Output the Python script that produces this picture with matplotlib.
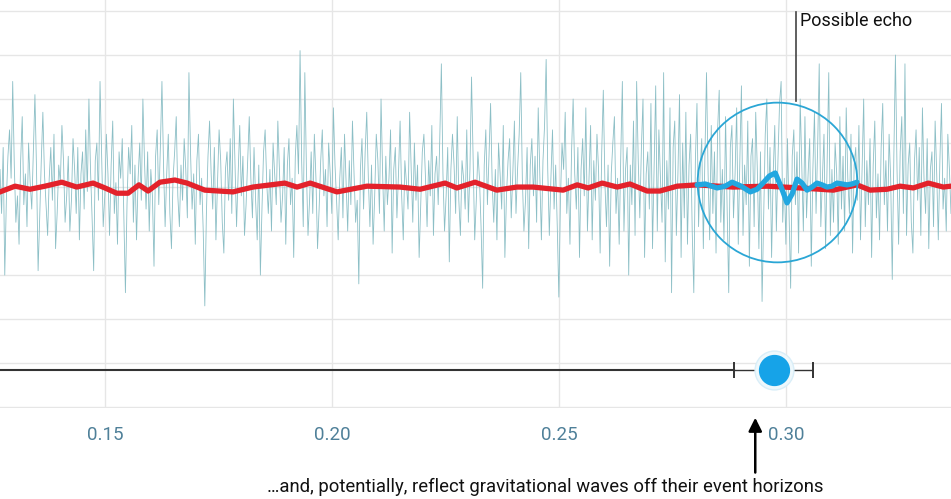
import numpy as np
import matplotlib
matplotlib.use('Agg')
import matplotlib.pyplot as plt

# time span of the strain trace (seconds) and raw noisy strain, in grid units
t_start, t_end = 0.1269, 0.3363
noise = [
    0.4, -0.6, 0.9, -2.0, -0.3, 0.7, 1.3, 0.2, 2.4, 0.5, -0.8, -0.2, -1.3, 0.6, 1.6, -0.4, 0.3, -0.9, 1.0, 0.1, -0.5, 0.8, 2.1, 0.4, -1.9,
    -0.7, 0.6, 1.7, 0.3, -0.4, -1.1, 0.2, 0.9, -0.3, 1.2, -1.4, -0.6, 0.5, 0.1, 1.4, 0.6, -0.8, -0.2, 0.7, -1.0, -0.3, 1.1, 0.4, -0.6, 0.9,
    -1.2, 0.3, 0.8, -0.5, 1.3, -0.1, 2.0, 0.4, -0.7, -1.9, 0.6, 1.0, -0.3, 2.4, 0.7, -0.9, -0.2, 1.2, 0.3, -1.1, 0.5, 1.5, -0.6, 0.1, -1.3,
    0.8, 0.2, 1.1, -0.6, -2.4, -0.4, 0.9, 0.3, 1.4, -0.8, 0.5, -1.2, 0.2, 1.0, -0.3, 2.0, 0.6, -0.5, 0.8, -1.0, 0.4, -0.2, -1.8, 0.7, 1.3,
    -0.4, 0.9, 2.4, 0.5, -0.9, 0.3, 1.2, -0.6, -1.4, 0.2, 0.8, 1.6, -0.2, -0.9, 0.5, -0.3, 1.1, 0.4, -0.7, 2.6, 0.8, -0.5, 0.3, -1.3, 0.6,
    1.2, -0.4, 0.2, -1.0, -2.7, -0.6, 0.7, 1.5, 0.3, -0.5, 0.9, -1.2, 0.1, 1.3, 0.6, -0.8, -1.5, 0.4, 0.8, -0.3, 1.1, -0.6, 2.0, 0.5, -0.9,
    0.3, 1.4, -0.2, 0.7, -1.1, -0.4, 0.6, 1.6, 0.2, -0.7, 0.9, -0.3, -1.2, 0.5, -2.0, -0.5, 0.8, 1.3, 0.1, -0.6, 0.4, -1.0, 1.0, 0.3, -0.4,
    1.5, 0.4, -0.8, -0.2, 0.9, -1.3, 0.5, 1.1, -0.4, 0.2, -1.6, 0.7, 1.4, 0.3, 3.1, 0.6, -0.9, 2.6, 0.4, -1.1, -0.3, 0.8, -0.6, 1.2, 0.2,
    -1.4, -0.5, 0.6, 1.3, -0.2, 0.4, -0.9, 1.0, 0.3, -0.6, 1.8, 0.5, -0.3, -1.2, 0.2, 0.9, -0.7, 1.2, 0.1, -1.0, 0.6, -0.4, 1.5, 0.3, -0.8,
    -0.3, -2.2, 0.4, 1.1, -0.5, 0.8, 1.7, 0.2, -0.9, 0.5, -1.3, -0.2, 1.2, 0.6, -0.6, 2.0, 0.3, -1.0, 0.7, -0.4, 0.2, 1.3, -1.5, 0.4, 0.9,
    -0.7, 0.3, 1.5, -0.2, -1.2, 0.6, 0.1, -0.5, 1.7, 0.4, -0.8, 1.0, -0.3, 0.5, -1.6, -0.4, 0.8, 1.2, 0.2, -0.9, 0.6, -0.2, 1.4, -1.1, 0.3,
    0.7, -0.4, 1.1, 2.8, 0.3, -1.0, -0.2, 0.9, -1.7, 0.4, 1.2, 0.5, -0.6, 1.6, -0.3, -1.1, 0.6, 0.2, -0.5, 1.3, -0.8, 0.4, 2.5, 0.6, -1.2,
    -0.3, 0.8, 0.2, -0.9, -2.3, 0.5, 1.3, -0.4, 0.7, 1.9, 0.1, -0.8, 0.4, -1.2, 1.0, 0.3, -0.5, 1.4, -1.6, -0.2, 0.6, 1.1, -0.7, 0.3, 1.5,
    -0.6, 0.4, 1.2, 2.6, 0.2, -1.0, -0.3, 0.9, -1.4, 0.5, 1.1, -0.2, 0.7, -0.8, 1.8, 0.3, -1.2, 0.6, 1.4, 2.9, 0.4, -1.1, 0.2, 1.3, -0.5,
    0.5, -0.9, -2.5, -0.3, 1.0, 0.4, 1.7, -0.6, 0.2, -1.3, 0.8, 2.0, 0.3, -0.5, 0.9, -1.6, 0.4, 1.1, -0.2, 1.8, -1.0, 0.2, 1.4, -1.2, 0.6,
    -0.3, 1.2, 0.4, -1.5, 0.8, 2.2, 0.1, -0.9, 0.5, -1.8, 0.3, 1.0, 1.6, -0.6, 0.2, -1.3, 0.7, 2.4, -1.0, 0.4, 0.9, -2.0, 0.5, -0.4, 1.5,
    -1.1, 2.4, 0.6, -0.7, 0.9, 2.0, -1.6, 0.3, 0.8, -0.5, 1.9, -1.4, 0.4, 2.3, -1.0, 1.3, 0.2, -0.8, 2.6, -1.7, 0.6, -0.5, 1.8, -2.4, 0.9,
    1.5, -1.1, 0.3, 2.1, -1.6, 1.0, -0.7, 1.7, -1.3, 0.5, 1.2, -1.0, -2.4, 0.6, 1.9, -0.9, 0.4, 1.1, -1.4, 0.7, 2.6, 0.3, -1.2, 1.4, -0.6,
    0.8, -1.5, 1.3, 2.2, -0.8, 0.4, -1.2, 1.6, -0.5, -2.4, 0.9, 1.4, -0.7, 0.3, 1.8, -1.3, 0.6, 2.3, -1.1, 0.5, -0.4, 1.5, -1.8, 0.7, 1.1,
    -0.9, 1.7, 0.4, -1.4, 0.8, -2.6, -0.7, 1.2, 2.0, -0.5, 0.9, -1.6, 0.3, 1.4, -1.0, 0.6, 1.9, 2.4, -0.8, 0.2, -1.3, 1.1, -0.6, -2.3, 0.7,
    1.3, -0.4, 0.8, -1.5, 2.0, 0.5, -1.0, 1.6, -0.7, 0.3, 1.1, -1.8, 0.4, 1.7, -0.6, 0.9, 2.8, -0.9, 0.2, 1.2, -1.4, 0.6, 2.6, -1.1, 0.4,
    -0.8, 1.0, 0.3, -1.3, 1.6, -0.5, 0.7, -1.0, 1.8, 0.2, -0.6, 1.2, -1.5, 0.5, 0.9, -0.3, 1.4, -1.2, 0.4, 2.0, -0.9, 0.6, -0.4, 1.1, -1.6,
    0.5, 1.5, -0.7, 0.3, -1.2, 0.9, 1.9, -0.4, 0.6, -1.0, 1.2, 0.2, -2.1, 0.7, 3.0, 0.4, -1.3, 0.8, 1.6, -0.6, 2.8, -1.1, 0.5, 1.0, -0.8,
    -1.5, 0.6, 1.3, -0.3, 0.9, -1.1, 1.8, 0.2, -0.6, 1.1, -1.4, 0.4, 0.8, -0.9, 1.5, 0.3, -1.2, 0.6, 1.9, -0.5, 0.2, -1.0, 1.2, 0.4, -0.6,
]

# smoothed (filtered) signal
red_t = [0.1269, 0.1302, 0.1335, 0.1368, 0.1405, 0.1438, 0.1474, 0.1500, 0.1526, 0.1551,
         0.1575, 0.1595, 0.1621, 0.1654, 0.1681, 0.1720, 0.1782, 0.1826, 0.1896, 0.1923,
         0.1952, 0.2011, 0.2077, 0.2150, 0.2194, 0.2249, 0.2275, 0.2315, 0.2363, 0.2407,
         0.2443, 0.2509, 0.2540, 0.2564, 0.2595, 0.2628, 0.2656, 0.2694, 0.2722, 0.2760,
         0.2804, 0.2883, 0.2958, 0.3031, 0.3104, 0.3156, 0.3185, 0.3222, 0.3251, 0.3280,
         0.3313, 0.3346, 0.3363]
red_v = [-0.11, 0.02, -0.05, 0.02, 0.11, 0.0, 0.09, -0.02, -0.14, -0.14,
         0.05, -0.09, 0.11, 0.16, 0.09, -0.07, -0.11, 0.0, 0.09, 0.0,
         0.09, -0.11, 0.02, 0.0, -0.05, 0.09, -0.02, 0.11, -0.07, 0.0,
         0.0, -0.07, 0.05, -0.02, 0.09, 0.0, 0.07, -0.09, -0.09, 0.02,
         0.05, 0.0, 0.02, -0.02, -0.07, 0.05, -0.07, -0.05, 0.02, -0.02,
         0.09, 0.0, 0.02]

# echo template inside the circle
echo_t = [0.2804, 0.2822, 0.2848, 0.2866, 0.2881, 0.2901, 0.2921, 0.2936, 0.2949,
          0.2963, 0.2976, 0.2989, 0.3002, 0.3013, 0.3024, 0.3035, 0.3046, 0.3057,
          0.3068, 0.3079, 0.3090, 0.3101, 0.3112, 0.3123, 0.3134, 0.3145, 0.3156]
echo_v = [0.05, 0.07, -0.02, 0.02, 0.11, 0.02, -0.11, -0.05, 0.09,
          0.25, 0.32, 0.0, -0.36, -0.16, 0.18, 0.09, -0.07, 0.0,
          0.09, 0.05, 0.0, 0.02, 0.09, 0.07, 0.05, 0.07, 0.11]

# echo time estimate with error bar
echo_est = 0.2974
echo_lo, echo_hi = 0.2886, 0.3060
est_row = -4.16

ticks = [0.15, 0.20, 0.25, 0.30]
tick_labels = ['0.15', '0.20', '0.25', '0.30']

plt.rcParams['font.family'] = ['Roboto', 'DejaVu Sans']

fig = plt.figure(figsize=(9.51, 4.99), dpi=100)
ax = fig.add_axes([0, 91 / 499, 1, 408 / 499])
ax.set_xlim(t_start, t_end)
ax.set_ylim(-5.02, 4.25)

for yv in range(-5, 5):
    ax.axhline(yv, color='#e6e6e6', lw=1, zorder=0)
for xv in ticks:
    ax.axvline(xv, color='#e6e6e6', lw=1, zorder=0)

t_noise = np.linspace(t_start, t_end, len(noise))
ax.plot(t_noise, noise, color='#8cbfc6', lw=0.6, zorder=1)
ax.plot(red_t, red_v, color='#e3222b', lw=3.8, solid_joinstyle='round', zorder=2)
ax.plot(echo_t, echo_v, color='#22a7e0', lw=3.8, solid_joinstyle='round',
        solid_capstyle='round', zorder=3)

# circle around the possible echo
ax.plot([0.2980], [0.11], marker='o', markersize=115, markerfacecolor='none',
        markeredgecolor='#2aa6d5', markeredgewidth=1.3, zorder=4)
ax.plot([0.3022, 0.3022], [1.95, 3.98], color='#444444', lw=1.2, zorder=4)
ax.text(0.3030, 3.78, 'Possible echo', fontsize=13, color='#111111', va='center', ha='left')

# estimate row
ax.plot([t_start, echo_lo], [est_row, est_row], color='#333333', lw=1.5, zorder=3)
ax.errorbar([echo_est], [est_row], xerr=[[echo_est - echo_lo], [echo_hi - echo_est]],
            fmt='none', ecolor='#333333', elinewidth=1, capsize=6, capthick=1.4, zorder=3)
ax.plot([echo_est], [est_row], marker='o', markersize=28, markerfacecolor='#eef8fc',
        markeredgecolor='#d9eef8', markeredgewidth=1, zorder=4)
ax.plot([echo_est], [est_row], marker='o', markersize=21.5, color='#16a3e8', zorder=5)

ax.set_xticks(ticks)
ax.set_xticklabels(tick_labels)
ax.set_yticks([])
ax.tick_params(axis='x', length=0, pad=13, labelsize=13.5, labelcolor='#4f8099')
for s in ax.spines.values():
    s.set_visible(False)

ax.annotate('', xy=(0.2932, -0.017), xytext=(0.2932, -0.165),
            xycoords=('data', 'axes fraction'), textcoords=('data', 'axes fraction'),
            arrowprops=dict(arrowstyle='-|>', color='black', lw=1.8, mutation_scale=20),
            annotation_clip=False)
fig.text(0.573, 0.025, '…and, potentially, reflect gravitational waves off their event horizons',
         ha='center', va='center', fontsize=13.3, color='#111111')

fig.savefig('out.png', dpi=100)
